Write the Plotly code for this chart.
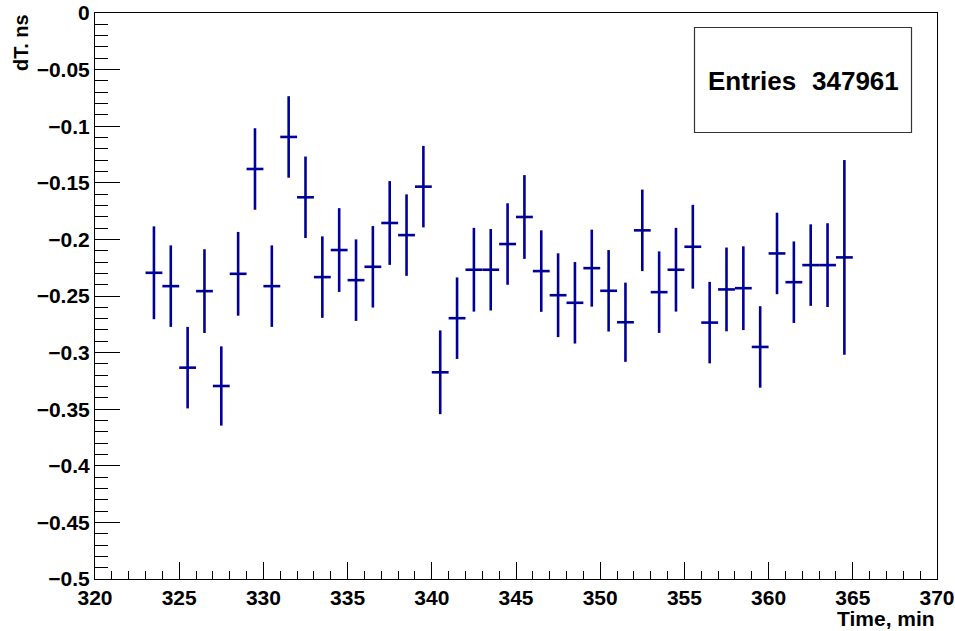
import plotly.graph_objects as go

# Bin centers (Time, min)
time_min = [323.5 + i for i in range(42)]
# Mean dT values (ns)
dt_ns = [-0.2295, -0.2413, -0.3133, -0.2457, -0.3295, -0.2304, -0.1378, -0.2413,
         -0.1095, -0.1628, -0.2333, -0.2094, -0.2360, -0.2242, -0.1855, -0.1962,
         -0.1534, -0.3174, -0.2696, -0.2268, -0.2268, -0.2041, -0.1802, -0.2280,
         -0.2493, -0.2560, -0.2254, -0.2454, -0.2732, -0.1920, -0.2466, -0.2268,
         -0.2065, -0.2735, -0.2442, -0.2431, -0.2950, -0.2124, -0.2378, -0.2227,
         -0.2227, -0.2159]
# Errors (ns)
dt_err = [0.041, 0.036, 0.036, 0.037, 0.035, 0.037, 0.036, 0.036,
          0.036, 0.036, 0.036, 0.037, 0.036, 0.036, 0.037, 0.036,
          0.036, 0.037, 0.036, 0.037, 0.036, 0.036, 0.037, 0.036,
          0.037, 0.036, 0.034, 0.036, 0.035, 0.036, 0.036, 0.037,
          0.037, 0.036, 0.037, 0.037, 0.036, 0.036, 0.036, 0.036,
          0.037, 0.086]
bin_half_width = 0.5

entries_label = "Entries"
entries_value = "347961"
x_title = "Time, min"
y_title = "dT. ns"

COLOR = "#000099"
FONT = "Liberation Sans, Arial, Helvetica, sans-serif"

fig = go.Figure()
fig.add_trace(go.Scatter(
    x=time_min, y=dt_ns, mode="markers",
    marker=dict(size=1, color=COLOR, opacity=0),
    error_y=dict(type="data", array=dt_err, symmetric=True, color=COLOR, thickness=2.6, width=0),
    error_x=dict(type="constant", value=bin_half_width, color=COLOR, thickness=2.6, width=0),
    showlegend=False, hoverinfo="x+y",
))

L, R, T, B = 95, 18, 13, 52
W, H = 955, 631
pw, ph = W - L - R, H - T - B

def px_x(px):
    return (px - L) / pw

def px_y(py):
    return (H - B - py) / ph

tickfont = dict(family=FONT, size=21, color="black", weight="bold")

fig.update_layout(
    width=W, height=H,
    margin=dict(l=L, r=R, t=T, b=B, pad=0, autoexpand=False),
    paper_bgcolor="white", plot_bgcolor="white",
    xaxis=dict(
        range=[320, 370], dtick=5, tick0=320, ticks="inside", ticklen=17, tickwidth=1,
        tickcolor="black", showline=True, linecolor="black", linewidth=1, mirror=True,
        showgrid=False, zeroline=False, tickfont=tickfont, automargin=False,
        ticklabeloverflow="allow",
        minor=dict(dtick=1, ticks="inside", ticklen=8, tickcolor="black", tickwidth=1, showgrid=False),
    ),
    yaxis=dict(
        range=[-0.5, 0], dtick=0.05, tick0=0, ticks="inside", ticklen=25, tickwidth=1,
        tickcolor="black", showline=True, linecolor="black", linewidth=1, mirror=True,
        showgrid=False, zeroline=False, tickfont=tickfont, automargin=False,
        ticklabeloverflow="allow",
        minor=dict(dtick=0.01, ticks="inside", ticklen=13, tickcolor="black", tickwidth=1, showgrid=False),
    ),
    shapes=[dict(type="rect", xref="paper", yref="paper",
                 x0=px_x(694.5), x1=px_x(911.5), y0=px_y(132.5), y1=px_y(27.5),
                 line=dict(color="#333333", width=1.2), fillcolor="white", layer="above")],
    annotations=[
        dict(text=entries_label, xref="paper", yref="paper", x=px_x(706), y=px_y(81),
             xanchor="left", yanchor="middle", showarrow=False,
             font=dict(family=FONT, size=26, color="black", weight="bold")),
        dict(text=entries_value, xref="paper", yref="paper", x=px_x(901), y=px_y(81),
             xanchor="right", yanchor="middle", showarrow=False,
             font=dict(family=FONT, size=26, color="black", weight="bold")),
        dict(text=x_title, xref="paper", yref="paper", x=px_x(937), y=px_y(618),
             xanchor="right", yanchor="middle", showarrow=False,
             font=dict(family=FONT, size=21, color="black", weight="bold")),
        dict(text=y_title, xref="paper", yref="paper", x=px_x(20.5), y=px_y(42.5),
             xanchor="center", yanchor="middle", showarrow=False, textangle=-90,
             font=dict(family=FONT, size=20, color="black", weight="bold")),
    ],
)

fig.write_html("out.html")
